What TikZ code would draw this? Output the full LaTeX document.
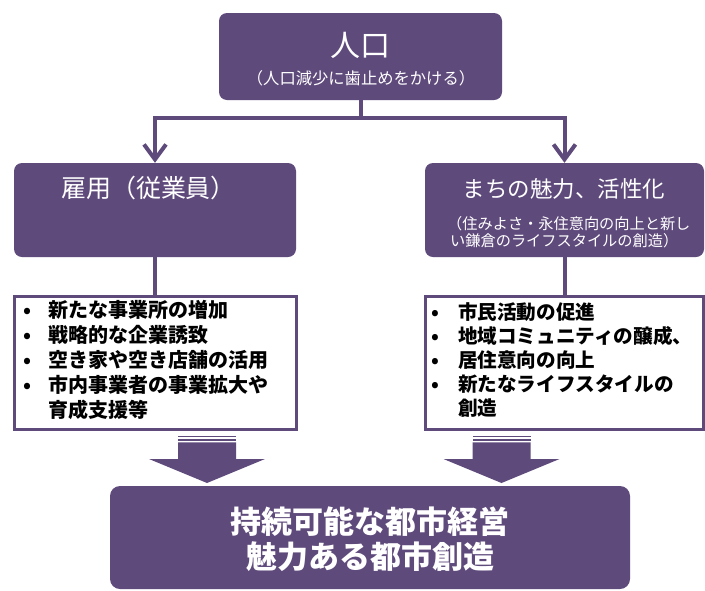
\documentclass[tikz,border=0pt]{standalone}
\usepackage{fontspec}
\setmainfont{Noto Sans CJK JP}
\usetikzlibrary{arrows.meta}
\definecolor{pur}{RGB}{95,74,124}
\begin{document}
\begin{tikzpicture}[x=1pt,y=-1pt,
  pbox/.style={fill=pur, draw=none, rounded corners=8pt, inner sep=0pt},
  wbox/.style={draw=pur, line width=3pt, fill=white, inner sep=0pt},
  conn/.style={draw=pur, line width=4pt},
  arr/.style={-{Straight Barb[length=15pt,width=22pt]}},
  wtxt/.style={text=white, inner sep=0pt, anchor=base},
  btxt/.style={text=black, inner sep=0pt, anchor=base west, font=\bfseries\fontsize{20pt}{24pt}\selectfont},
  rtxt/.style={text=black, inner sep=0pt, anchor=base west, font=\bfseries\fontsize{19.6pt}{24pt}\selectfont},
]
\useasboundingbox (0,0) rectangle (705,590);
\fill[white] (0,0) rectangle (705,590);

% boxes
\node[pbox, minimum width=283pt, minimum height=87pt] (top) at (360.5,56.5) {};
\node[pbox, minimum width=282pt, minimum height=94pt] (left) at (155,210) {};
\node[pbox, minimum width=279pt, minimum height=94pt] (right) at (564.5,210) {};
\node[wbox, minimum width=282pt, minimum height=133pt] (lw) at (155.5,363) {};
\node[wbox, minimum width=278pt, minimum height=133pt] (rw) at (564.5,363) {};
\node[pbox, rounded corners=10pt, minimum width=520pt, minimum height=103pt] (bottom) at (370,537.5) {};

% connectors
\draw[conn,arr] (top.south) -- ++(0,17.5) -| (left.north);
\draw[conn,arr] (top.south) -- ++(0,17.5) -| (right.north);
\draw[conn] (left.south) -- (left.south |- lw.north);
\draw[conn] (right.south) -- (right.south |- rw.north);

% block arrows
\foreach \cx in {207,501.5}{
  \fill[pur] (\cx-29,436) rectangle (\cx+29,437.4);
  \fill[pur] (\cx-29,439) rectangle (\cx+29,441);
  \fill[pur] (\cx-29,442.3) -- (\cx+29,442.3) -- (\cx+29,459) -- (\cx+58,459)
     -- (\cx,483) -- (\cx-58,459) -- (\cx-29,459) -- cycle;
}

% texts in purple boxes
\node[wtxt, font=\fontsize{30pt}{36pt}\selectfont] (t1) at (360.5,56.4) {人口};
\node[wtxt, font=\fontsize{16.3pt}{20pt}\selectfont] (t2) at (361,84.2) {（人口減少に歯止めをかける）};
\node[wtxt, font=\fontsize{25pt}{30pt}\selectfont] (lt) at (148.5,197.5) {雇用（従業員）};
\node[wtxt, font=\fontsize{22.5pt}{27pt}\selectfont] (rt) at (564,197.5) {まちの魅力、活性化};
\node[wtxt, anchor=base west, font=\fontsize{15.2pt}{17pt}\selectfont] (rs1) at (447,229.8) {（住みよさ・永住意向の向上と新し};
\node[wtxt, anchor=base west, font=\fontsize{15.2pt}{17pt}\selectfont] (rs2) at (450,246.8) {い鎌倉のライフスタイルの創造）};

% bullets left
\node[btxt] (l1) at (27,317.6) {\makebox[0pt]{•}\hspace{21pt}新たな事業所の増加};
\node[btxt] (l2) at (27,342.6) {\makebox[0pt]{•}\hspace{21pt}戦略的な企業誘致};
\node[btxt] (l3) at (27,367.6) {\makebox[0pt]{•}\hspace{21pt}空き家や空き店舗の活用};
\node[btxt] (l4) at (27,392.6) {\makebox[0pt]{•}\hspace{21pt}市内事業者の事業拡大や};
\node[btxt] (l5) at (48,417.6) {育成支援等};

% bullets right
\node[rtxt] (r1) at (435,319.5) {\makebox[0pt]{•}\hspace{23pt}市民活動の促進};
\node[rtxt] (r2) at (435,343.5) {\makebox[0pt]{•}\hspace{23pt}地域コミュニティの醸成、};
\node[rtxt] (r3) at (435,367.5) {\makebox[0pt]{•}\hspace{23pt}居住意向の向上};
\node[rtxt] (r4) at (435,391.5) {\makebox[0pt]{•}\hspace{23pt}新たなライフスタイルの};
\node[rtxt] (r5) at (458,415.5) {創造};

% bottom texts
\node[wtxt, font=\bfseries\fontsize{31pt}{37pt}\selectfont] (b1) at (370,533.8) {持続可能な都市経営};
\node[wtxt, font=\bfseries\fontsize{31pt}{37pt}\selectfont] (b2) at (370,568.8) {魅力ある都市創造};
\end{tikzpicture}
\end{document}
